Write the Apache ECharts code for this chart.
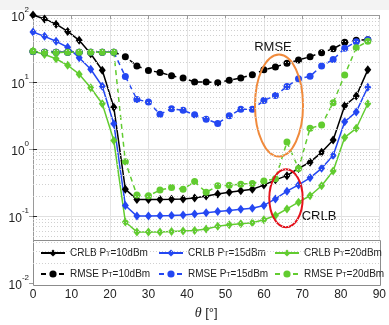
<!DOCTYPE html>
<html>
<head>
<meta charset="utf-8">
<script src="https://cdn.jsdelivr.net/npm/echarts@6/dist/echarts.min.js"></script>
<style>
  html, body { margin: 0; padding: 0; background: #fff; }
  #chart { width: 389px; height: 325px; }
</style>
</head>
<body>
<div id="chart"></div>
<script>
// angle of arrival, degrees
const theta = [0, 3, 6, 9, 12, 15, 18, 21, 24, 27, 30, 33, 36, 39, 42, 45, 48, 51, 54, 57, 60, 63, 66, 69, 72, 75, 78, 81, 84, 87];

const crlb10 = [100, 87.4, 73, 56.8, 41.9, 26.4, 15.0, 4.19, 0.252, 0.176, 0.177, 0.177, 0.178, 0.180, 0.186, 0.200, 0.213, 0.227, 0.239, 0.252, 0.290, 0.347, 0.401, 0.513, 0.637, 0.893, 1.37, 4.43, 6.17, 15.2];
const crlb15 = [55.7, 48, 40.5, 33, 23.1, 15.5, 8.64, 2.39, 0.144, 0.100, 0.100, 0.101, 0.102, 0.104, 0.107, 0.112, 0.117, 0.121, 0.126, 0.131, 0.144, 0.180, 0.235, 0.292, 0.372, 0.515, 0.80, 2.55, 3.58, 8.36];
const crlb20 = [29.0, 25.8, 22.2, 17.8, 13.1, 8.2, 4.75, 1.34, 0.0817, 0.058, 0.058, 0.058, 0.059, 0.060, 0.061, 0.064, 0.0706, 0.0745, 0.077, 0.0797, 0.0883, 0.102, 0.128, 0.161, 0.201, 0.283, 0.47, 1.49, 2.04, 4.75];

const rmse10 = [28.5, 27.9, 27.9, 27.9, 27.9, 27.9, 27.9, 27.9, 23.9, 17.4, 14.9, 13.9, 12.4, 11.5, 10.0, 10.0, 9.77, 10.6, 11.5, 12.8, 15.2, 16.8, 19.1, 21.3, 23.9, 27.4, 31.3, 39.1, 41.9, 42.9];
const rmse15 = [28.5, 27.9, 27.9, 27.9, 27.9, 27.9, 27.9, 27.9, 12.1, 5.5, 5.03, 3.3, 4.0, 3.78, 3.24, 2.79, 2.41, 3.13, 3.92, 3.92, 5.31, 6.29, 8.59, 11.2, 12.2, 17.4, 21.6, 32.0, 39.8, 42.9];
const rmse20 = [28.8, 27.5, 27.5, 27.9, 27.9, 27.9, 27.9, 27.9, 0.644, 0.206, 0.201, 0.244, 0.267, 0.252, 0.327, 0.226, 0.283, 0.289, 0.299, 0.306, 0.335, 0.36, 1.27, 0.513, 2.04, 2.28, 4.91, 12.7, 32.4, 40.5];

const xTicks = [0, 10, 20, 30, 40, 50, 60, 70, 80, 90];
const decades = [-2, -1, 0, 1, 2];
const legendNames = {
  'CRLB 10': 'CRLB P{sub|T}=10dBm',
  'CRLB 15': 'CRLB P{sub|T}=15dBm',
  'CRLB 20': 'CRLB P{sub|T}=20dBm',
  'RMSE 10': 'RMSE P{sub|T}=10dBm',
  'RMSE 15': 'RMSE P{sub|T}=15dBm',
  'RMSE 20': 'RMSE P{sub|T}=20dBm'
};

const BLACK = '#000000';
const BLUE = '#2447f2';
const GREEN = '#62cc30';
const FONT = 'Liberation Sans, Arial, sans-serif';

// log minor grid: 2..9 x 10^k
const minorLines = [];
for (let k = -2; k < 2; k++) {
  for (let m = 2; m < 10; m++) minorLines.push({ yAxis: m * Math.pow(10, k) });
}

const pairs = arr => theta.map((t, i) => [t, arr[i]]);

const makeSeries = (name, arr, color, dashed) => ({
  name: name,
  type: 'line',
  data: pairs(arr),
  symbol: dashed ? 'circle' : 'diamond',
  symbolSize: dashed ? 7 : [7, 9],
  showSymbol: true,
  color: color,
  lineStyle: { width: 1.5, type: dashed ? [5, 4] : 'solid' },
  itemStyle: { color: color },
  animation: false,
  z: 2
});

const legendText = {
  fontFamily: FONT,
  fontSize: 10,
  color: '#222',
  rich: {
    sub: { fontSize: 7, fontFamily: FONT, color: '#222', verticalAlign: 'bottom', lineHeight: 7, padding: [5, 0, 0, 0] }
  }
};
const makeLegend = (left, names) => ({
  orient: 'vertical',
  left: left,
  top: 241,
  itemWidth: 24,
  itemHeight: 9,
  itemGap: 9,
  data: names,
  formatter: n => legendNames[n],
  textStyle: legendText,
  z: 5
});

const chart = echarts.init(document.getElementById('chart'), null, { renderer: 'canvas' });

chart.setOption({
  backgroundColor: '#ffffff',
  animation: false,
  grid: { left: 33, right: 9, top: 15, bottom: 38 },
  xAxis: [{
    type: 'value',
    min: 0,
    max: 90,
    interval: 10,
    name: '{i|θ} [°]',
    nameLocation: 'middle',
    nameGap: 21,
    nameTextStyle: {
      fontFamily: FONT, fontSize: 13, color: '#222',
      rich: { i: { fontFamily: 'Liberation Serif, serif', fontStyle: 'italic', fontSize: 14, color: '#222' } }
    },
    axisLine: { show: true, lineStyle: { color: '#262626', width: 1 } },
    axisTick: { show: true, inside: true, length: 4, lineStyle: { color: '#262626' } },
    axisLabel: { fontFamily: FONT, fontSize: 12, color: '#222', margin: 6,
      formatter: v => xTicks.includes(v) ? String(v) : '' },
    splitLine: { show: true, lineStyle: { color: '#e4e4e4', width: 1 } }
  }, {
    type: 'value',
    position: 'top',
    min: 0,
    max: 90,
    interval: 10,
    axisLine: { show: true, lineStyle: { color: '#9a9a9a', width: 1 } },
    axisTick: { show: true, inside: true, length: 4, lineStyle: { color: '#9a9a9a' } },
    axisLabel: { show: false },
    splitLine: { show: false }
  }],
  yAxis: [{
    type: 'log',
    logBase: 10,
    min: 0.01,
    max: 100,
    axisLine: { show: true, lineStyle: { color: '#262626', width: 1 } },
    axisTick: { show: true, inside: true, length: 4, lineStyle: { color: '#262626' } },
    axisLabel: {
      fontFamily: FONT, fontSize: 12, color: '#222', margin: 4,
      formatter: v => {
        const e = Math.round(Math.log10(v));
        return decades.includes(e) ? '{b|10}{s|' + e + '}' : '';
      },
      rich: {
        b: { fontFamily: FONT, fontSize: 12, color: '#222', lineHeight: 18, verticalAlign: 'bottom' },
        s: { fontFamily: FONT, fontSize: 8, color: '#222', lineHeight: 10, verticalAlign: 'top' }
      }
    },
    splitLine: { show: true, lineStyle: { color: '#e0e0e0', width: 1 } }
  }, {
    type: 'log',
    logBase: 10,
    min: 0.01,
    max: 100,
    position: 'right',
    axisLine: { show: true, lineStyle: { color: '#9a9a9a', width: 1 } },
    axisTick: { show: true, inside: true, length: 4, lineStyle: { color: '#9a9a9a' } },
    axisLabel: { show: false },
    splitLine: { show: false }
  }],
  legend: [
    makeLegend(35, ['CRLB 10', 'RMSE 10']),
    makeLegend(153, ['CRLB 15', 'RMSE 15']),
    makeLegend(269, ['CRLB 20', 'RMSE 20'])
  ],
  graphic: [
    { type: 'rect', shape: { x: 0, y: 0, width: 389, height: 10 }, style: { fill: '#f3f3f3' }, z: 0, silent: true },
    { type: 'rect', shape: { x: 33.5, y: 240.5, width: 347, height: 45 },
      style: { fill: '#ffffff', stroke: '#8c8c8c', lineWidth: 1 }, z: 3, silent: true },
    { type: 'ellipse', shape: { cx: 279, cy: 105.5, rx: 24, ry: 51 },
      style: { fill: 'none', stroke: '#f08a3c', lineWidth: 2 }, z: 3, silent: true },
    { type: 'ellipse', shape: { cx: 286, cy: 198.3, rx: 16.7, ry: 29 },
      style: { fill: 'none', stroke: '#e5121c', lineWidth: 2 }, z: 3, silent: true },
    { type: 'text', x: 273, y: 47, style: { text: 'RMSE', fill: '#111', fontFamily: FONT, fontSize: 13, align: 'center', verticalAlign: 'middle' }, z: 3, silent: true },
    { type: 'text', x: 319, y: 216, style: { text: 'CRLB', fill: '#111', fontFamily: FONT, fontSize: 13, align: 'center', verticalAlign: 'middle' }, z: 3, silent: true }
  ],
  series: [
    {
      name: 'grid-minor',
      type: 'line',
      data: [],
      silent: true,
      markLine: {
        silent: true,
        symbol: ['none', 'none'],
        label: { show: false },
        lineStyle: { type: [1, 2], color: '#d0d0d0', width: 1 },
        data: minorLines,
        animation: false
      },
      z: 1
    },
    makeSeries('CRLB 10', crlb10, BLACK, false),
    makeSeries('CRLB 15', crlb15, BLUE, false),
    makeSeries('CRLB 20', crlb20, GREEN, false),
    makeSeries('RMSE 10', rmse10, BLACK, true),
    makeSeries('RMSE 15', rmse15, BLUE, true),
    makeSeries('RMSE 20', rmse20, GREEN, true)
  ]
});
</script>
</body>
</html>
